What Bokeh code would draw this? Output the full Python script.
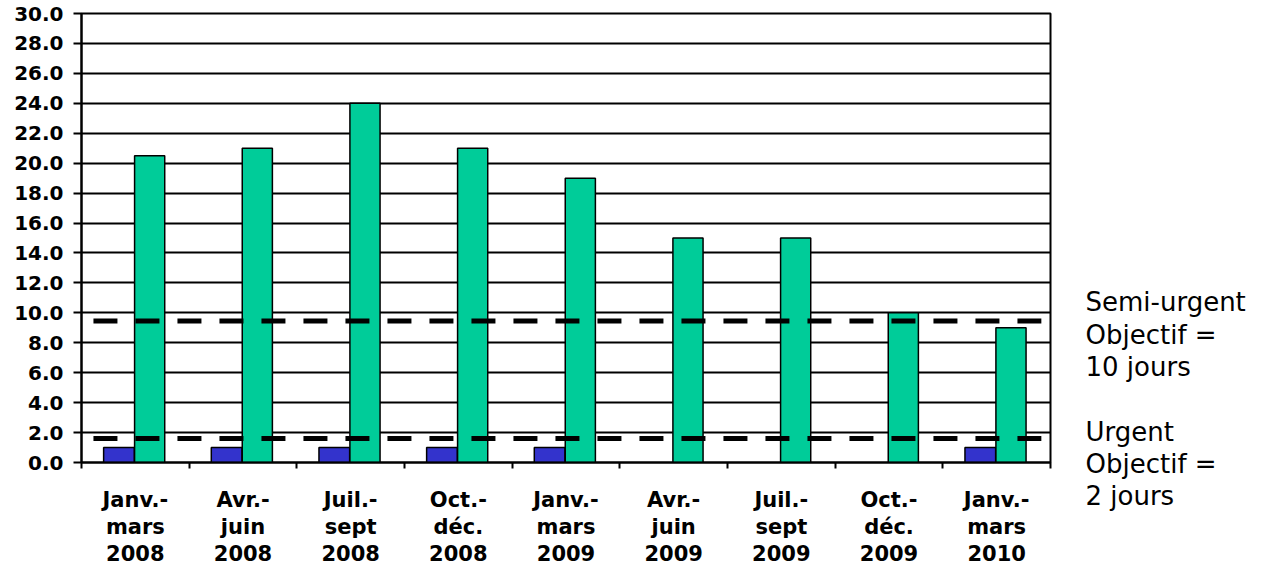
import numpy as np
from bokeh.plotting import figure
from bokeh.layouts import row, column
from bokeh.models import Range1d, FixedTicker, NumeralTickFormatter, ColumnDataSource
from bokeh.core.properties import value
from bokeh.embed import file_html
from bokeh.resources import INLINE

periods = ["Janv.-\nmars\n2008", "Avr.-\njuin\n2008", "Juil.-\nsept\n2008", "Oct.-\ndéc.\n2008",
           "Janv.-\nmars\n2009", "Avr.-\njuin\n2009", "Juil.-\nsept\n2009", "Oct.-\ndéc.\n2009",
           "Janv.-\nmars\n2010"]
urgent = [1.0, 1.0, 1.0, 1.0, 1.0, np.nan, np.nan, np.nan, 1.0]
semi_urgent = [20.5, 21.0, 24.0, 21.0, 19.0, 15.0, 15.0, 10.0, 9.0]
objective_lines = [9.45, 1.6]
right_notes = ["Semi-urgent", "Objectif =", "10 jours", "Urgent", "Objectif =", "2 jours"]
y_ticks = list(range(0, 31, 2))

FONT = "DejaVu Sans"
n = len(periods)
idx = np.arange(n)
H = 569
TOP, BOTTOM = 13, 103

p = figure(width=1060, height=H, output_backend="svg", toolbar_location=None,
           x_range=Range1d(0, n), y_range=Range1d(0, 30),
           min_border_left=81, min_border_right=10, min_border_top=TOP, min_border_bottom=BOTTOM)
p.background_fill_color = "white"
p.border_fill_color = "white"
p.outline_line_color = "black"
p.outline_line_width = 2

src = ColumnDataSource(dict(xb=idx + 0.348, xg=idx + 0.633, u=urgent, s=semi_urgent))
p.vbar(x="xb", top="u", bottom=0, width=0.285, source=src, fill_color="#3333CC",
       line_color="black", line_width=1.5)
p.vbar(x="xg", top="s", bottom=0, width=0.28, source=src, fill_color="#00CC99",
       line_color="black", line_width=1.5)

for lvl in objective_lines:
    p.line(x=[0.111, 8.915], y=[lvl, lvl], line_color="black", line_width=5,
           line_dash="24 18")

p.xgrid.visible = False
p.ygrid.ticker = FixedTicker(ticks=y_ticks)
p.ygrid.grid_line_color = "black"
p.ygrid.grid_line_width = 2
p.ygrid.grid_line_alpha = 1

ya = p.yaxis[0]
ya.ticker = FixedTicker(ticks=y_ticks)
ya.formatter = NumeralTickFormatter(format="0.0")
ya.major_tick_out = 8
ya.major_tick_in = 0
ya.major_tick_line_width = 2
ya.major_tick_line_color = "black"
ya.minor_tick_line_color = None
ya.axis_line_width = 2
ya.axis_line_color = "black"
ya.major_label_text_font = FONT
ya.major_label_text_font_style = "bold"
ya.major_label_text_font_size = "20px"
ya.major_label_text_color = "black"
ya.major_label_standoff = 10

xa = p.xaxis[0]
centers = [i + 0.5 for i in range(n)]
xa.ticker = FixedTicker(ticks=centers, minor_ticks=list(range(n + 1)))
xa.major_label_overrides = {c: lab for c, lab in zip(centers, periods)}
xa.major_tick_line_color = None
xa.major_tick_out = 0
xa.major_tick_in = 0
xa.minor_tick_out = 6
xa.minor_tick_in = 0
xa.minor_tick_line_width = 2
xa.minor_tick_line_color = "black"
xa.axis_line_width = 2
xa.axis_line_color = "black"
xa.major_label_text_font = FONT
xa.major_label_text_font_style = "bold"
xa.major_label_text_font_size = "21px"
xa.major_label_text_color = "black"
xa.major_label_text_line_height = 1.14
xa.major_label_standoff = 19

# right-side notes panel, in pixel units (y measured up from the bottom)
q = figure(width=210, height=H, output_backend="svg", toolbar_location=None,
           x_range=Range1d(0, 210), y_range=Range1d(0, H),
           x_axis_location=None, y_axis_location=None,
           min_border_left=0, min_border_right=0, min_border_top=0, min_border_bottom=0)
q.outline_line_color = None
q.grid.visible = False
q.background_fill_color = "white"
q.border_fill_color = "white"
note_rows = [301.7, 334.5, 366.7, 431.7, 463.3, 495.0]
q.text(x=[25] * len(right_notes), y=[H - r for r in note_rows], text=right_notes,
       text_font=value(FONT), text_font_size="26px", text_baseline="middle",
       text_align="left", text_color="black")

layout = row(p, column(q))
open("out.html", "w").write(file_html(layout, INLINE))
